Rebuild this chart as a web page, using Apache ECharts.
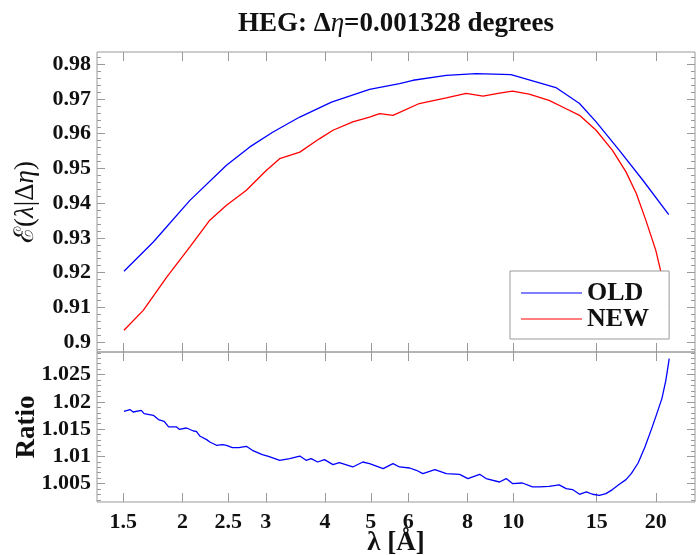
<!DOCTYPE html>
<html>
<head>
<meta charset="utf-8">
<script src="https://cdn.jsdelivr.net/npm/echarts@6/dist/echarts.min.js"></script>
<style>html,body{margin:0;padding:0;background:#fff}#c{width:698px;height:555px}</style>
</head>
<body>
<div id="c"></div>
<script>
// ---- data ----
const xTicks = [1.5, 2, 2.5, 3, 4, 5, 6, 8, 10, 15, 20];
const yTicksTop = [0.90, 0.91, 0.92, 0.93, 0.94, 0.95, 0.96, 0.97, 0.98];
const yTicksRatio = [1.005, 1.01, 1.015, 1.02, 1.025];

const lambdaOld = [1.505, 1.736, 2.074, 2.478, 2.776, 3.108, 3.539, 4.13, 4.97, 5.75, 6.14, 7.22, 8.34, 9.89, 12.3, 13.8, 14.96, 16.75, 18.78, 21.3];
const effOld    = [0.9204, 0.9288, 0.9408, 0.9509, 0.9562, 0.9605, 0.9648, 0.9691, 0.9728, 0.9744, 0.9754, 0.9768, 0.9773, 0.9770, 0.9733, 0.9687, 0.9634, 0.9552, 0.9466, 0.9367];

const lambdaNew = [1.505, 1.653, 1.853, 2.074, 2.285, 2.478, 2.73, 3.01, 3.21, 3.54, 3.90, 4.16, 4.58, 4.97, 5.22, 5.57, 6.33, 7.22, 7.95, 8.63, 9.35, 9.96, 10.8, 11.9, 12.93, 13.8, 14.96, 16.2, 17.3, 18.2, 19.05, 20.0, 20.5, 21.3];
const effNew    = [0.9034, 0.9091, 0.9187, 0.9274, 0.9351, 0.9394, 0.9437, 0.9495, 0.9528, 0.9547, 0.9586, 0.9610, 0.9634, 0.9648, 0.9658, 0.9653, 0.9687, 0.9703, 0.9716, 0.9708, 0.9717, 0.9723, 0.9714, 0.9696, 0.9672, 0.9653, 0.9610, 0.9552, 0.9490, 0.9427, 0.9351, 0.9264, 0.9202, 0.9106];

const lambdaRatio = [1.505, 1.549, 1.574, 1.637, 1.66, 1.736, 1.78, 1.83, 1.87, 1.944, 1.97, 2.04, 2.11, 2.14, 2.18, 2.25, 2.285, 2.36, 2.43, 2.478, 2.55, 2.63, 2.73, 2.81, 2.95, 3.04, 3.21, 3.37, 3.54, 3.65, 3.74, 3.86, 3.99, 4.16, 4.29, 4.58, 4.81, 4.97, 5.31, 5.57, 5.75, 6.04, 6.24, 6.44, 6.83, 7.22, 7.7, 8.02, 8.49, 8.76, 9.35, 9.66, 9.96, 10.45, 10.98, 11.35, 11.9, 12.5, 12.93, 13.34, 13.8, 14.26, 14.7, 15.2, 15.69, 16.2, 16.75, 17.3, 17.75, 18.35, 18.97, 19.6, 20.1, 20.6, 21.0, 21.35];
const ratio       = [1.01827, 1.01858, 1.01814, 1.01845, 1.01784, 1.01753, 1.01674, 1.01643, 1.01539, 1.01539, 1.01496, 1.0152, 1.01465, 1.0146, 1.01368, 1.01307, 1.01263, 1.01203, 1.01216, 1.01203, 1.0116, 1.0116, 1.01184, 1.01111, 1.01032, 1.01001, 1.00927, 1.00959, 1.01006, 1.00927, 1.00959, 1.00896, 1.0094, 1.00849, 1.00885, 1.00805, 1.00896, 1.00867, 1.00775, 1.00867, 1.00805, 1.00786, 1.00744, 1.00683, 1.00757, 1.00683, 1.0067, 1.00592, 1.0067, 1.00592, 1.00529, 1.00592, 1.005, 1.00511, 1.00438, 1.00438, 1.0045, 1.00475, 1.00408, 1.0039, 1.00304, 1.00346, 1.00304, 1.00285, 1.00316, 1.0039, 1.00487, 1.00573, 1.00683, 1.00878, 1.01172, 1.01509, 1.01784, 1.0206, 1.02395, 1.02794];

// ---- build ----
const zip = (a, b) => a.map((v, i) => [v, b[i]]);
const FONT = '"Liberation Serif", "DejaVu Serif", serif';
const GRAY = '#9a9a9a';
const X_MIN = 1.32, X_MAX = 24.2;
const TOP_MIN = 0.89712, TOP_MAX = 0.98354;
const R_MIN = 1.00162, R_MAX = 1.02915;

const minorTop = [];
for (let k = 449; k <= 491; k++) if (k % 5 !== 0) minorTop.push(k / 500);
const minorRatio = [];
for (let k = 1002; k <= 1029; k++) if (k % 5 !== 0) minorRatio.push(k / 1000);

const fmt = v => String(+(+v).toFixed(4));

function xAx(grid, pos, labels) {
  const a = {
    type: 'log', gridIndex: grid, position: pos, min: X_MIN, max: X_MAX,
    axisLine: { show: false }, splitLine: { show: false },
    axisTick: { show: true, inside: true, length: 9, customValues: xTicks, lineStyle: { color: GRAY } },
    axisLabel: { show: !!labels, customValues: xTicks, formatter: fmt, margin: 9,
      fontFamily: FONT, fontWeight: 'bold', fontSize: 22, color: '#111' }
  };
  if (labels) {
    a.name = 'λ [Å]'; a.nameLocation = 'middle'; a.nameGap = 28; a.nameMoveOverlap = false;
    a.nameTextStyle = { fontFamily: FONT, fontWeight: 'bold', fontSize: 27, color: '#111' };
  }
  return a;
}
function yAx(grid, pos, min, max, ticks, len, labels, name, nameStyle, gap) {
  const a = {
    type: 'value', gridIndex: grid, position: pos, min: min, max: max,
    axisLine: { show: false }, splitLine: { show: false },
    axisTick: { show: true, inside: true, length: len, customValues: ticks, lineStyle: { color: GRAY } },
    axisLabel: { show: !!labels, customValues: ticks, formatter: fmt, margin: 6,
      fontFamily: FONT, fontWeight: 'bold', fontSize: 22, color: '#111' }
  };
  if (name) {
    a.name = name; a.nameLocation = 'middle'; a.nameRotate = 90; a.nameGap = gap;
    a.nameMoveOverlap = false;
    a.nameTextStyle = nameStyle;
  }
  return a;
}

const option = {
  animation: false,
  backgroundColor: '#fff',
  graphic: [{
    type: 'text', x: 396, y: 24, z: 10,
    style: {
      text: '{b|HEG: Δ}{i|η}{b|=0.001328 degrees}',
      align: 'center', verticalAlign: 'middle',
      rich: {
        b: { fontFamily: FONT, fontWeight: 'bold', fontSize: 27, fill: '#111' },
        i: { fontFamily: FONT, fontStyle: 'italic', fontSize: 27, fill: '#111' }
      }
    }
  }],
  grid: [
    { left: 97, top: 52, width: 598, height: 300, show: true, borderColor: GRAY, borderWidth: 1, containLabel: false, outerBoundsMode: 'none' },
    { left: 97, top: 352, width: 598, height: 150, show: true, borderColor: GRAY, borderWidth: 1, containLabel: false, outerBoundsMode: 'none' }
  ],
  xAxis: [
    xAx(0, 'bottom', false),
    xAx(0, 'top', false),
    xAx(1, 'bottom', true),
    xAx(1, 'top', false)
  ],
  yAxis: [
    yAx(0, 'left', TOP_MIN, TOP_MAX, yTicksTop, 8, true, '{a|ℰ(}{i|λ}{a||Δ}{i|η}{a|)}', {
      rich: {
        a: { fontFamily: FONT, fontSize: 27, color: '#111' },
        i: { fontFamily: FONT, fontStyle: 'italic', fontSize: 27, color: '#111' }
      }
    }, 58),
    yAx(0, 'left', TOP_MIN, TOP_MAX, minorTop, 4, false),
    yAx(0, 'right', TOP_MIN, TOP_MAX, yTicksTop, 8, false),
    yAx(0, 'right', TOP_MIN, TOP_MAX, minorTop, 4, false),
    yAx(1, 'left', R_MIN, R_MAX, yTicksRatio, 8, true, 'Ratio', { fontFamily: FONT, fontWeight: 'bold', fontSize: 27, color: '#111' }, 56),
    yAx(1, 'left', R_MIN, R_MAX, minorRatio, 4, false),
    yAx(1, 'right', R_MIN, R_MAX, yTicksRatio, 8, false),
    yAx(1, 'right', R_MIN, R_MAX, minorRatio, 4, false)
  ],
  legend: {
    orient: 'vertical', left: 510, top: 271,
    padding: [9, 20, 7, 11], itemGap: 0,
    backgroundColor: '#fff', borderColor: GRAY, borderWidth: 1, borderRadius: 0,
    icon: 'rect', itemWidth: 61, itemHeight: 1.2,
    textStyle: { fontFamily: FONT, fontWeight: 'bold', fontSize: 26, lineHeight: 23, color: '#111' },
    data: ['OLD', 'NEW']
  },
  series: [
    { name: 'OLD', type: 'line', xAxisIndex: 0, yAxisIndex: 0, data: zip(lambdaOld, effOld),
      showSymbol: false, lineStyle: { color: '#0000ff', width: 1.3 }, itemStyle: { color: '#0000ff' } },
    { name: 'NEW', type: 'line', xAxisIndex: 0, yAxisIndex: 0, data: zip(lambdaNew, effNew),
      showSymbol: false, lineStyle: { color: '#ff0000', width: 1.3 }, itemStyle: { color: '#ff0000' } },
    { name: 'Ratio', type: 'line', xAxisIndex: 2, yAxisIndex: 4, data: zip(lambdaRatio, ratio),
      showSymbol: false, lineStyle: { color: '#0000ff', width: 1.3 }, itemStyle: { color: '#0000ff' } }
  ]
};
const chart = echarts.init(document.getElementById('c'));
chart.setOption(option);
</script>
</body>
</html>
